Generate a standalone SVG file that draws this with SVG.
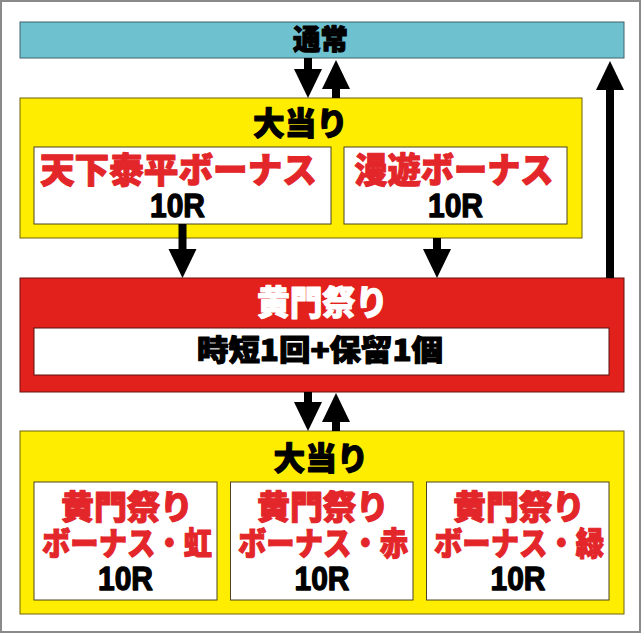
<svg xmlns="http://www.w3.org/2000/svg" width="642" height="634" viewBox="0 0 642 634">
<style>
.jp{font-family:"Noto Sans CJK JP","Noto Sans CJK SC",sans-serif;font-weight:900;text-anchor:middle;stroke-width:1.1;stroke-linejoin:round}
.num{font-family:"Liberation Sans","Noto Sans",sans-serif;font-weight:bold;text-anchor:middle;fill:#000;stroke:#000;stroke-width:1.3;stroke-linejoin:round}
.red{fill:#e3262a;stroke:#e3262a}
.blk{fill:#000;stroke:#000}
.wht{fill:#fff;stroke:#fff}
.yel{fill:#ffed00;stroke:#6e6310;stroke-width:1}
.box{fill:#fff;stroke:#4a4520;stroke-width:1}
.conn{stroke:#000;stroke-width:8;fill:none}
</style>
<defs>
<marker id="ah" markerUnits="userSpaceOnUse" viewBox="0 -15 30 30" refX="1" refY="0" markerWidth="30" markerHeight="30" orient="auto" overflow="visible">
<path d="M0,-14 L29,0 L0,14 Z" fill="#000"/>
</marker>
</defs>
<rect x="0" y="0" width="642" height="634" fill="#fff"/>
<rect x="1" y="1" width="639" height="631" fill="none" stroke="#8a8a8a" stroke-width="2"/>

<g id="node-normal">
<rect x="20" y="22" width="604" height="36" fill="#6ec1cf" stroke="#3f6269" stroke-width="1"/>
<text class="jp blk" x="320.5" y="50" font-size="28" textLength="55" lengthAdjust="spacingAndGlyphs">通常</text>
</g>

<g id="node-jackpot1">
<rect class="yel" x="20" y="98" width="562" height="140"/>
<text class="jp blk" x="300.5" y="135" font-size="32" textLength="95" lengthAdjust="spacingAndGlyphs">大当り</text>
</g>
<g id="node-tenka">
<rect class="box" x="34" y="147" width="297" height="77"/>
<text class="jp red" x="178.5" y="183" font-size="35" textLength="277" lengthAdjust="spacingAndGlyphs">天下泰平ボーナス</text>
<text class="num" x="177.5" y="217" font-size="33" textLength="55" lengthAdjust="spacingAndGlyphs">10R</text>
</g>
<g id="node-manyu">
<rect class="box" x="344" y="147" width="223" height="77"/>
<text class="jp red" x="454" y="183" font-size="35" textLength="199" lengthAdjust="spacingAndGlyphs">漫遊ボーナス</text>
<text class="num" x="455.5" y="217" font-size="33" textLength="55" lengthAdjust="spacingAndGlyphs">10R</text>
</g>

<g id="node-komon">
<rect x="20" y="278" width="604" height="114" fill="#e2211c" stroke="#6b1010" stroke-width="1"/>
<text class="jp wht" x="322.5" y="315" font-size="34" textLength="131" lengthAdjust="spacingAndGlyphs">黄門祭り</text>
<rect x="34" y="328" width="575" height="47" fill="#fff" stroke="#5a1010" stroke-width="1"/>
<text class="jp blk" x="320" y="361" font-size="29" textLength="246" lengthAdjust="spacingAndGlyphs">時短1回+保留1個</text>
</g>

<g id="node-jackpot2">
<rect class="yel" x="20" y="431" width="604" height="183"/>
<text class="jp blk" x="321" y="470" font-size="32" textLength="95" lengthAdjust="spacingAndGlyphs">大当り</text>
</g>
<g id="node-niji">
<rect class="box" x="34" y="482" width="183" height="118"/>
<text class="jp red" x="127" y="518.5" font-size="33" textLength="132" lengthAdjust="spacingAndGlyphs">黄門祭り</text>
<text class="jp red" x="127" y="555" font-size="32" textLength="170" lengthAdjust="spacingAndGlyphs">ボーナス・虹</text>
<text class="num" x="125.5" y="590" font-size="33" textLength="55" lengthAdjust="spacingAndGlyphs">10R</text>
</g>
<g id="node-aka">
<rect class="box" x="230.5" y="482" width="182.5" height="118"/>
<text class="jp red" x="323" y="518.5" font-size="33" textLength="132" lengthAdjust="spacingAndGlyphs">黄門祭り</text>
<text class="jp red" x="323" y="555" font-size="32" textLength="170" lengthAdjust="spacingAndGlyphs">ボーナス・赤</text>
<text class="num" x="322" y="590" font-size="33" textLength="55" lengthAdjust="spacingAndGlyphs">10R</text>
</g>
<g id="node-midori">
<rect class="box" x="426.5" y="482" width="182.5" height="118"/>
<text class="jp red" x="519" y="518.5" font-size="33" textLength="132" lengthAdjust="spacingAndGlyphs">黄門祭り</text>
<text class="jp red" x="519" y="555" font-size="32" textLength="170" lengthAdjust="spacingAndGlyphs">ボーナス・緑</text>
<text class="num" x="518" y="590" font-size="33" textLength="55" lengthAdjust="spacingAndGlyphs">10R</text>
</g>

<g id="connectors">
<line class="conn" x1="308" y1="58" x2="308" y2="70" marker-end="url(#ah)"/>
<line class="conn" x1="336" y1="98" x2="336" y2="88" marker-end="url(#ah)"/>
<line class="conn" x1="610" y1="278" x2="610" y2="89" marker-end="url(#ah)"/>
<line class="conn" x1="182.5" y1="224" x2="182.5" y2="250" marker-end="url(#ah)"/>
<line class="conn" x1="437" y1="238" x2="437" y2="250" marker-end="url(#ah)"/>
<line class="conn" x1="308" y1="392" x2="308" y2="403" marker-end="url(#ah)"/>
<line class="conn" x1="336" y1="431" x2="336" y2="421" marker-end="url(#ah)"/>
</g>
</svg>
